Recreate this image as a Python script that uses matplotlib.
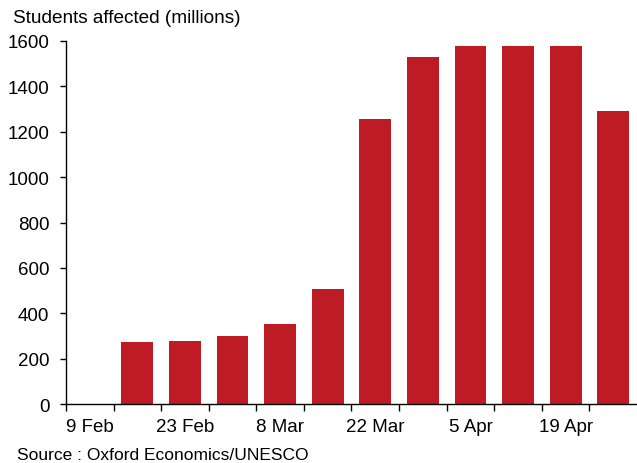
import numpy as np
import matplotlib.pyplot as plt

plt.rcParams['font.family'] = ['Liberation Sans', 'DejaVu Sans']

weeks = ['9 Feb', '16 Feb', '23 Feb', '1 Mar', '8 Mar', '15 Mar',
         '22 Mar', '29 Mar', '5 Apr', '12 Apr', '19 Apr', '26 Apr']
students = [0, 273, 277, 300, 352, 507, 1255, 1530, 1577, 1577, 1577, 1293]

fig = plt.figure(figsize=(6.37, 4.64), dpi=100)
ax = fig.add_axes([0.1036, 0.127, 0.8964, 0.7825])

x = np.arange(len(weeks))
ax.bar(x, students, width=0.67, color='#BE1C25')

ax.set_xlim(-0.5, len(weeks) - 0.5)
ax.set_ylim(0, 1600)
ax.set_yticks(np.arange(0, 1601, 200))

# labels on every other week, tick marks between categories
ax.set_xticks(x[::2])
ax.set_xticklabels(weeks[::2])
ax.set_xticks(np.arange(-0.5, len(weeks) - 0.5, 1), minor=True)
ax.tick_params(axis='x', which='major', length=0, pad=10, labelsize=13.5)
ax.tick_params(axis='x', which='minor', length=5, width=1, direction='out')
ax.tick_params(axis='y', length=4, width=1, direction='out', pad=8, labelsize=13.5)

for s in ['top', 'right']:
    ax.spines[s].set_visible(False)
ax.spines['left'].set_linewidth(1)
ax.spines['bottom'].set_linewidth(1)

fig.text(0.02, 0.96, 'Students affected (millions)', fontsize=13.7, va='center')
fig.text(0.027, 0.019, 'Source : Oxford Economics/UNESCO', fontsize=12.5, va='center')

fig.savefig('out.png', dpi=100)
